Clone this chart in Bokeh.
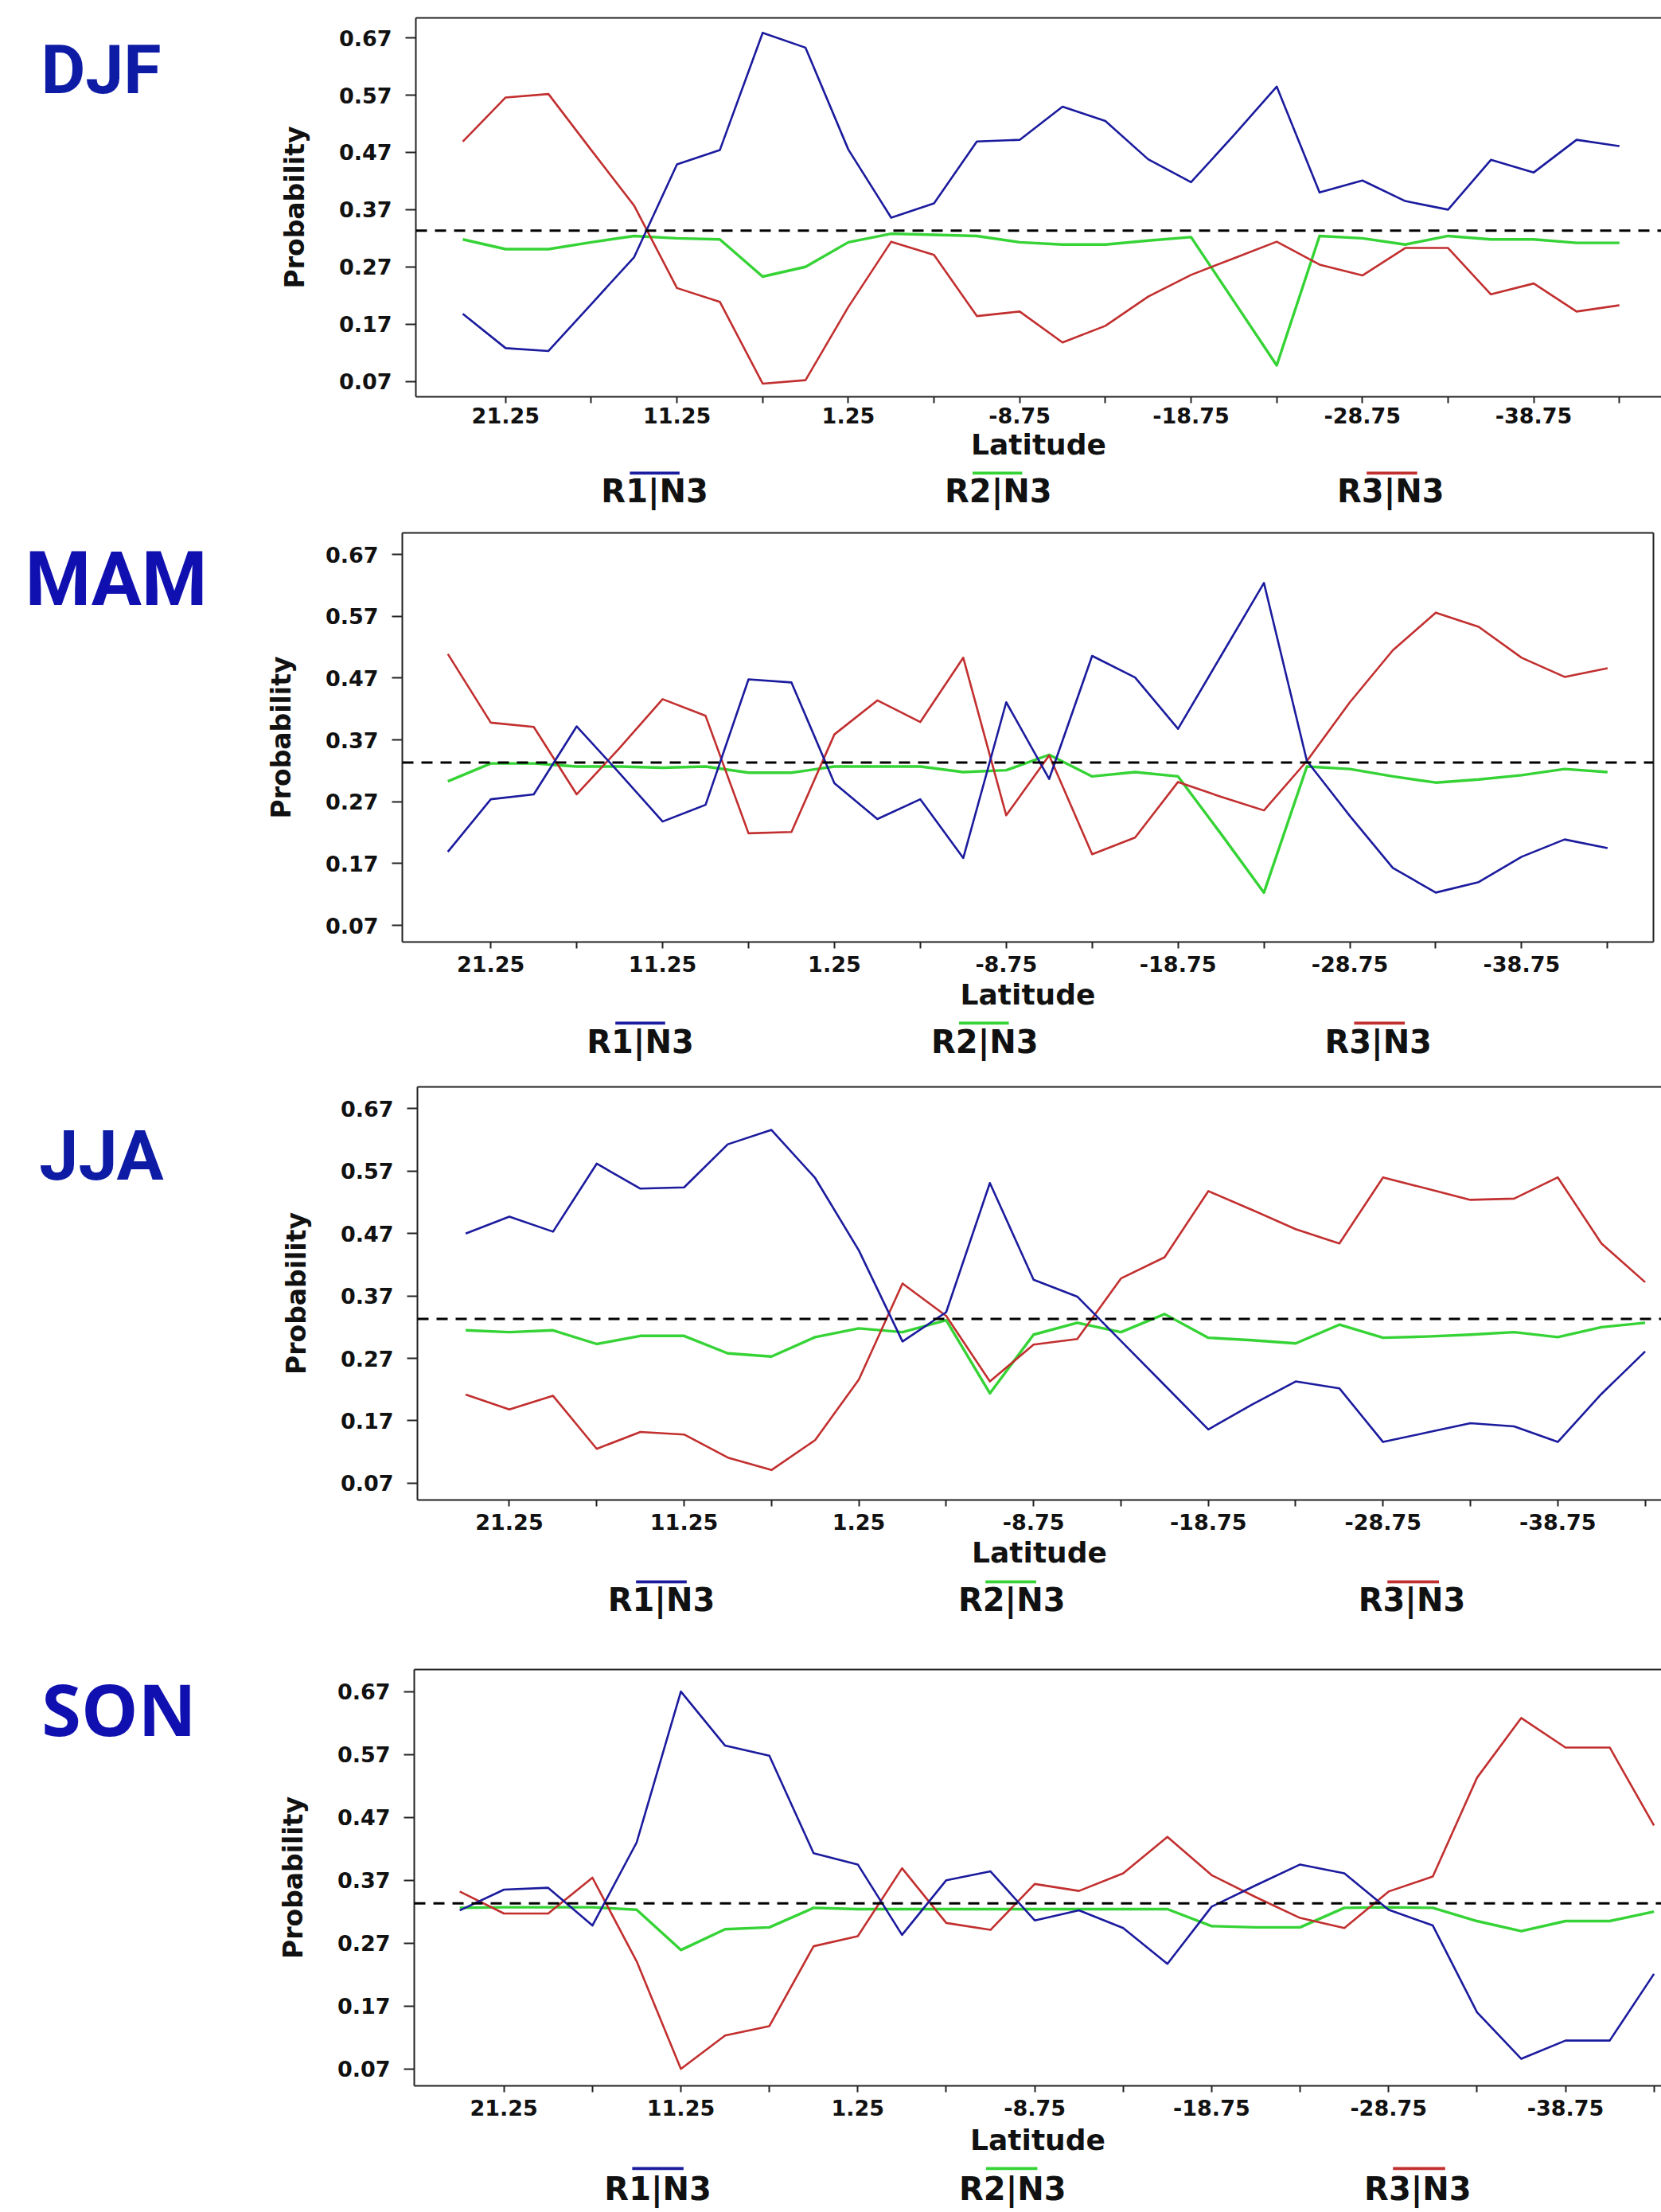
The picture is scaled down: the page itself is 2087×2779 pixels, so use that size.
from bokeh.plotting import figure
from bokeh.models import Range1d, FixedTicker, Span, LinearAxis, CustomJSTickFormatter
from bokeh.layouts import column, row
from bokeh.embed import file_html
from bokeh.resources import INLINE

# ---------------- data ----------------
latitude = [23.75, 21.25, 18.75, 16.25, 13.75, 11.25, 8.75, 6.25, 3.75, 1.25,
            -1.25, -3.75, -6.25, -8.75, -11.25, -13.75, -16.25, -18.75, -21.25, -23.75,
            -26.25, -28.75, -31.25, -33.75, -36.25, -38.75, -41.25, -43.75]

djf_r1 = [0.188, 0.128, 0.123, 0.205, 0.287, 0.449, 0.474, 0.679, 0.653, 0.475,
          0.356, 0.381, 0.489, 0.492, 0.550, 0.525, 0.458, 0.418, 0.500, 0.585,
          0.400, 0.421, 0.385, 0.370, 0.457, 0.435, 0.492, 0.481]
djf_r2 = [0.318, 0.301, 0.301, 0.313, 0.324, 0.320, 0.318, 0.253, 0.270, 0.313,
          0.328, 0.326, 0.324, 0.313, 0.309, 0.309, 0.316, 0.322, 0.210, 0.098,
          0.324, 0.320, 0.309, 0.324, 0.318, 0.318, 0.312, 0.312]
djf_r3 = [0.489, 0.566, 0.572, 0.474, 0.377, 0.233, 0.209, 0.066, 0.072, 0.200,
          0.314, 0.291, 0.184, 0.192, 0.138, 0.167, 0.218, 0.256, 0.285, 0.314,
          0.274, 0.255, 0.303, 0.303, 0.222, 0.241, 0.192, 0.203]

mam_r1 = [0.189, 0.274, 0.282, 0.392, 0.316, 0.238, 0.265, 0.468, 0.463, 0.300,
          0.242, 0.274, 0.179, 0.431, 0.307, 0.506, 0.471, 0.388, 0.506, 0.624,
          0.336, 0.247, 0.163, 0.123, 0.140, 0.181, 0.209, 0.195]
mam_r2 = [0.303, 0.332, 0.332, 0.327, 0.327, 0.325, 0.327, 0.317, 0.317, 0.327,
          0.327, 0.327, 0.318, 0.321, 0.346, 0.311, 0.318, 0.311, 0.218, 0.123,
          0.327, 0.323, 0.311, 0.301, 0.306, 0.313, 0.323, 0.318]
mam_r3 = [0.509, 0.398, 0.391, 0.282, 0.357, 0.436, 0.409, 0.219, 0.221, 0.379,
          0.434, 0.399, 0.503, 0.248, 0.345, 0.185, 0.212, 0.302, 0.278, 0.256,
          0.336, 0.431, 0.515, 0.576, 0.553, 0.503, 0.472, 0.486]

jja_r1 = [0.470, 0.497, 0.473, 0.582, 0.542, 0.544, 0.613, 0.636, 0.559, 0.443,
          0.297, 0.344, 0.551, 0.396, 0.369, 0.298, 0.227, 0.156, 0.196, 0.233,
          0.222, 0.136, 0.151, 0.166, 0.161, 0.136, 0.213, 0.281]
jja_r2 = [0.315, 0.312, 0.315, 0.293, 0.306, 0.306, 0.278, 0.273, 0.304, 0.318,
          0.312, 0.331, 0.214, 0.308, 0.327, 0.312, 0.341, 0.303, 0.299, 0.294,
          0.324, 0.303, 0.305, 0.308, 0.312, 0.304, 0.320, 0.327]
jja_r3 = [0.212, 0.188, 0.210, 0.125, 0.152, 0.148, 0.111, 0.091, 0.139, 0.236,
          0.390, 0.338, 0.233, 0.292, 0.301, 0.398, 0.432, 0.538, 0.508, 0.477,
          0.454, 0.560, 0.542, 0.524, 0.526, 0.560, 0.454, 0.392]

son_r1 = [0.322, 0.355, 0.358, 0.298, 0.430, 0.670, 0.584, 0.568, 0.413, 0.395,
          0.283, 0.370, 0.384, 0.306, 0.322, 0.294, 0.237, 0.328, 0.362, 0.395,
          0.381, 0.323, 0.298, 0.160, 0.086, 0.115, 0.115, 0.221]
son_r2 = [0.326, 0.327, 0.327, 0.327, 0.323, 0.259, 0.292, 0.295, 0.326, 0.324,
          0.324, 0.324, 0.324, 0.324, 0.324, 0.324, 0.324, 0.297, 0.295, 0.295,
          0.326, 0.327, 0.326, 0.305, 0.289, 0.305, 0.305, 0.320]
son_r3 = [0.352, 0.317, 0.317, 0.374, 0.241, 0.070, 0.123, 0.138, 0.265, 0.281,
          0.389, 0.302, 0.291, 0.364, 0.353, 0.381, 0.439, 0.378, 0.343, 0.310,
          0.294, 0.352, 0.376, 0.533, 0.628, 0.581, 0.581, 0.457]

seasons = ["DJF", "MAM", "JJA", "SON"]
series = {
    "DJF": (djf_r1, djf_r2, djf_r3),
    "MAM": (mam_r1, mam_r2, mam_r3),
    "JJA": (jja_r1, jja_r2, jja_r3),
    "SON": (son_r1, son_r2, son_r3),
}

x_major_ticks = [21.25, 11.25, 1.25, -8.75, -18.75, -28.75, -38.75]
x_minor_ticks = [16.25, 6.25, -3.75, -13.75, -23.75, -33.75, -43.75]
y_ticks = [0.07, 0.17, 0.27, 0.37, 0.47, 0.57, 0.67]
reference_level = 1 / 3

legend_labels = ["R1|N3", "R2|N3", "R3|N3"]
legend_centers = [12.55, -7.5, -30.4]
legend_bar_from = [14.0, -6.0, -29.0]
legend_bar_to = [11.1, -8.9, -31.95]
line_colors = ["#1B1B9E", "#35D335", "#C22F2F"]
line_widths = [2.6, 3.4, 2.6]

# ---------------- layout (pixels) ----------------
NAME_W = 300
MAIN_W = 2087 - NAME_W
panel_cfg = {
    "DJF": dict(bt=22, fh=476, bb=90, lf=8, lb=56, bl=222, br=0, x0=26.49, x1=-46.20,
                closed=False, tstand=5, lstand=3, lgs=-3,
                ncx=126.5, ntop=137, nfont="Roboto", nsize="86px", ncolor="#0D1BA5"),
    "MAM": dict(bt=17, fh=514, bb=96, lf=8, lb=56, bl=205, br=10, x0=26.40, x1=-46.42,
                closed=True, tstand=9, lstand=5, lgs=-2,
                ncx=145.5, ntop=130, nfont="Roboto", nsize="94px", ncolor="#1010B0"),
    "JJA": dict(bt=22, fh=519, bb=97, lf=8, lb=56, bl=224, br=0, x0=26.51, x1=-44.68,
                closed=False, tstand=9, lstand=5, lgs=-3,
                ncx=127, ntop=159, nfont="Roboto", nsize="88px", ncolor="#0D1BA5"),
    "SON": dict(bt=52, fh=523, bb=98, lf=8, lb=52, bl=220, br=0, x0=26.32, x1=-44.17,
                closed=False, tstand=9, lstand=7, lgs=0,
                ncx=149, ntop=161, nfont="Open Sans", nsize="90px", ncolor="#1010B0"),
}

AX = "#222222"
FONT = "DejaVu Sans"
TICK_SIZE = "27px"
fmt_code = "return tick.toFixed(2);"


def quiet_axis(**kw):
    return LinearAxis(axis_line_color=None, major_tick_line_color=None,
                      minor_tick_line_color=None, major_tick_out=0, major_tick_in=0,
                      minor_tick_out=0, minor_tick_in=0, **kw)


def border_axis():
    return LinearAxis(ticker=FixedTicker(ticks=[]), axis_line_color=AX, axis_line_width=2,
                      major_tick_out=0, major_tick_in=0, minor_tick_out=0, minor_tick_in=0,
                      major_label_text_font_size="0px")


def blank_fig(w, h, xr, yr, bl=0, br=0, bt=0, bb=0):
    f = figure(width=w, height=h, x_range=xr, y_range=yr, output_backend="svg",
               toolbar_location=None, x_axis_location=None, y_axis_location=None,
               min_border_left=bl, min_border_right=br, min_border_top=bt, min_border_bottom=bb)
    f.grid.visible = False
    f.outline_line_color = None
    f.background_fill_color = "white"
    f.border_fill_color = "white"
    return f


def make_panel(name):
    c = panel_cfg[name]
    main_h = c["bt"] + c["fh"] + c["bb"]
    leg_h = c["lf"] + c["lb"]
    panel_h = main_h + leg_h
    xr = Range1d(c["x0"], c["x1"])

    p = figure(width=MAIN_W, height=main_h,
               x_range=xr, y_range=Range1d(0.043, 0.705),
               output_backend="svg", toolbar_location=None,
               min_border_left=c["bl"], min_border_right=c["br"],
               min_border_top=c["bt"], min_border_bottom=c["bb"],
               x_axis_label="Latitude", y_axis_label="Probability")
    p.grid.visible = False
    p.outline_line_color = None
    p.background_fill_color = "white"
    p.border_fill_color = "white"

    xa = p.xaxis[0]
    xa.ticker = FixedTicker(ticks=x_major_ticks, minor_ticks=x_minor_ticks)
    xa.formatter = CustomJSTickFormatter(code=fmt_code)
    xa.axis_line_color = AX
    xa.axis_line_width = 2
    xa.major_tick_line_color = AX
    xa.major_tick_line_width = 2
    xa.major_tick_out = 8
    xa.major_tick_in = 0
    xa.minor_tick_line_color = AX
    xa.minor_tick_line_width = 2
    xa.minor_tick_out = 8
    xa.minor_tick_in = 0
    xa.major_label_text_font = FONT
    xa.major_label_text_font_style = "bold"
    xa.major_label_text_font_size = TICK_SIZE
    xa.major_label_text_color = "#111111"
    xa.major_label_standoff = c["tstand"]
    xa.axis_label_text_font = FONT
    xa.axis_label_text_font_style = "bold"
    xa.axis_label_text_font_size = "36px"
    xa.axis_label_text_color = "#111111"
    xa.axis_label_standoff = c["lstand"]

    ya = p.yaxis[0]
    ya.ticker = FixedTicker(ticks=y_ticks)
    ya.formatter = CustomJSTickFormatter(code=fmt_code)
    ya.axis_line_color = AX
    ya.axis_line_width = 2
    ya.major_tick_line_color = AX
    ya.major_tick_line_width = 2
    ya.major_tick_out = 13
    ya.major_tick_in = 0
    ya.minor_tick_out = 0
    ya.minor_tick_in = 0
    ya.major_label_text_font = FONT
    ya.major_label_text_font_style = "bold"
    ya.major_label_text_font_size = TICK_SIZE
    ya.major_label_text_color = "#111111"
    ya.major_label_standoff = 17
    ya.axis_label_text_font = FONT
    ya.axis_label_text_font_style = "bold"
    ya.axis_label_text_font_size = "33px"
    ya.axis_label_text_color = "#111111"
    ya.axis_label_standoff = 33

    p.add_layout(border_axis(), "above")
    if c["closed"]:
        p.add_layout(border_axis(), "right")

    r1, r2, r3 = series[name]
    for vals, col, lw in ((r2, line_colors[1], line_widths[1]),
                          (r3, line_colors[2], line_widths[2]),
                          (r1, line_colors[0], line_widths[0])):
        p.line(latitude, vals, line_color=col, line_width=lw, line_join="round")

    p.add_layout(Span(location=reference_level, dimension="width", line_color="#000000",
                      line_width=3, line_dash="14 10"))

    # legend strip: coloured bars in a thin frame, names as tick labels under it
    leg = blank_fig(MAIN_W, leg_h, xr, Range1d(c["lf"], 0),
                    bl=c["bl"], br=c["br"], bt=0, bb=c["lb"])
    ybar = [c["lf"] - 2] * 3
    leg.segment(x0=legend_bar_from, y0=ybar, x1=legend_bar_to, y1=ybar,
                line_color=line_colors, line_width=4)
    la = quiet_axis(ticker=FixedTicker(ticks=legend_centers),
                    formatter=CustomJSTickFormatter(
                        args=dict(names=legend_labels, centers=legend_centers),
                        code="const i = centers.indexOf(tick); return i < 0 ? '' : names[i];"))
    la.major_label_standoff = c["lgs"]
    la.major_label_text_font = FONT
    la.major_label_text_font_style = "bold"
    la.major_label_text_font_size = "40px"
    la.major_label_text_color = "#111111"
    leg.add_layout(la, "below")

    # season name at the left, as the single label of a quiet top axis
    nf = blank_fig(NAME_W, panel_h, Range1d(0, NAME_W), Range1d(0, 1), bt=c["ntop"])
    na = quiet_axis(ticker=FixedTicker(ticks=[c["ncx"]]),
                    formatter=CustomJSTickFormatter(args=dict(label=name), code="return label;"))
    na.major_label_standoff = 0
    na.major_label_text_font = c["nfont"]
    na.major_label_text_font_style = "bold"
    na.major_label_text_font_size = c["nsize"]
    na.major_label_text_color = c["ncolor"]
    nf.add_layout(na, "above")

    return row(nf, column(p, leg, spacing=0), spacing=0)


layout = column(*[make_panel(s) for s in seasons], spacing=0)

with open("out.html", "w") as f:
    f.write(file_html(layout, INLINE))
